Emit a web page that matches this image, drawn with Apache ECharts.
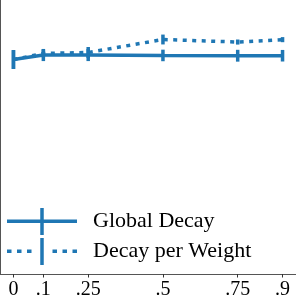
<!DOCTYPE html>
<html>
<head>
<meta charset="utf-8">
<script src="https://cdn.jsdelivr.net/npm/echarts@6/dist/echarts.min.js"></script>
<style>
html,body{margin:0;padding:0;background:#fff;}
#c{width:296px;height:302px;}
</style>
</head>
<body>
<div id="c"></div>
<script>
const xVals = [0, 0.1, 0.25, 0.5, 0.75, 0.9];
const xTickLabels = ['0', '.1', '.25', '.5', '.75', '.9'];
const seriesNames = ['Global Decay', 'Decay per Weight'];
const globalMean = [0.9014, 0.9046, 0.9046, 0.9043, 0.9041, 0.9041];
const globalErr = [0.0067, 0.0043, 0.0043, 0.0041, 0.0042, 0.0041];
const perWeightMean = [0.9014, 0.9057, 0.9064, 0.9156, 0.9138, 0.9155];
const perWeightErr = [0.0067, 0.0028, 0.0039, 0.0035, 0.0018, 0.0018];
const yTicks = [0.8, 0.9];

const color = '#1f77b4';
const chart = echarts.init(document.getElementById('c'), null, {renderer: 'canvas'});

function pairs(xs, ys) { return xs.map((x, i) => [x, ys[i]]); }
function errData(xs, ys, es) { return xs.map((x, i) => [x, ys[i], es[i]]); }

function errRender(params, api) {
  const x = api.value(0), y = api.value(1), e = api.value(2);
  const p1 = api.coord([x, y - e]);
  const p2 = api.coord([x, y + e]);
  return {
    type: 'line',
    shape: {x1: p1[0], y1: p1[1], x2: p2[0], y2: p2[1]},
    style: {stroke: color, lineWidth: 3.5}
  };
}

const dotIcon = 'path://M0,11.5h4.5v3.5h-4.5z M10,11.5h4.5v3.5h-4.5z M20,11.5h4.5v3.5h-4.5z M45.5,11.5h4.5v3.5h-4.5z M55.5,11.5h4.5v3.5h-4.5z M65.5,11.5h4.5v3.5h-4.5z M33.25,0h3.5v27h-3.5z';
const solidIcon = 'path://M0,11.5h70v3.5h-70z M33.25,0h3.5v27h-3.5z';

chart.setOption({
  animation: false,
  grid: {left: 0, right: -3, top: 0, bottom: 28, containLabel: false},
  legend: {
    orient: 'vertical',
    left: 7,
    top: 208,
    padding: 0,
    itemWidth: 70,
    itemHeight: 27,
    itemGap: 3,
    data: [
      {name: seriesNames[0], icon: solidIcon},
      {name: seriesNames[1], icon: dotIcon}
    ],
    itemStyle: {color: color, borderWidth: 0},
    textStyle: {fontFamily: 'Liberation Serif', fontSize: 22, color: '#000', padding: [0, 0, 0, 11]}
  },
  xAxis: {
    type: 'value',
    min: -0.045,
    max: 0.945,
    axisLine: {show: true, onZero: false, lineStyle: {color: '#555', width: 1}},
    axisTick: {show: true, customValues: xVals, length: 3.5, lineStyle: {color: '#333', width: 1}},
    axisLabel: {
      show: true,
      customValues: xVals,
      margin: 6,
      fontFamily: 'Liberation Serif',
      fontSize: 20,
      color: '#000',
      formatter: function (v) {
        const i = xVals.findIndex(t => Math.abs(t - v) < 1e-9);
        return i >= 0 ? xTickLabels[i] : '';
      }
    },
    splitLine: {show: false}
  },
  yAxis: {
    type: 'value',
    min: 0.74929,
    max: 0.94362,
    axisLine: {show: true, onZero: false, lineStyle: {color: '#555', width: 1}},
    axisTick: {show: true, customValues: yTicks, length: 3.5, lineStyle: {color: '#333'}},
    axisLabel: {show: false},
    splitLine: {show: false}
  },
  series: [
    {
      name: seriesNames[0],
      type: 'line',
      data: pairs(xVals, globalMean),
      symbol: 'none',
      color: color,
      lineStyle: {color: color, width: 3.5},
      z: 2
    },
    {
      type: 'custom',
      name: seriesNames[0],
      data: errData(xVals, globalMean, globalErr),
      renderItem: errRender,
      encode: {x: 0, y: 1},
      color: color,
      z: 2
    },
    {
      name: seriesNames[1],
      type: 'line',
      data: pairs(xVals, perWeightMean),
      symbol: 'none',
      color: color,
      lineStyle: {color: color, width: 3.5, type: [4, 5.5], cap: 'butt'},
      z: 3
    },
    {
      type: 'custom',
      name: seriesNames[1],
      data: errData(xVals, perWeightMean, perWeightErr),
      renderItem: errRender,
      encode: {x: 0, y: 1},
      color: color,
      z: 3
    }
  ]
});
</script>
</body>
</html>
